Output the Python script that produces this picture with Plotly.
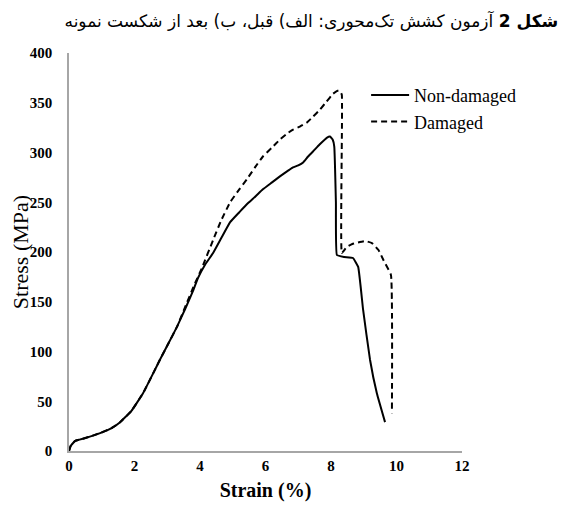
import plotly.graph_objects as go

# Non-damaged specimen
strain_nd = [0.0, 0.05, 0.18, 0.5, 0.95, 1.3, 1.56, 1.9, 2.26, 2.6, 2.78, 3.05, 3.3, 3.55, 3.8, 3.94, 4.15, 4.4, 4.65, 4.92, 5.2,
             5.43, 5.7, 5.92, 6.2, 6.44, 6.7, 6.84, 7.0, 7.15, 7.3, 7.45, 7.65, 7.88, 7.97, 8.05, 8.1, 8.15, 8.18, 8.4, 8.67,
             8.83, 8.98, 9.19, 9.4, 9.65]
stress_nd = [0, 5, 10, 13, 18, 23, 29, 40, 58, 80, 92, 109, 125, 143, 162, 174, 187, 199, 214, 230, 240,
             248, 256, 263, 270, 276, 282, 285, 287, 290, 296, 301, 308, 315, 316, 313, 306, 250, 197, 195, 194,
             185, 142, 92, 58, 29]

# Damaged specimen
strain_d = [0.0, 0.05, 0.18, 0.5, 0.95, 1.3, 1.56, 1.9, 2.26, 2.6, 2.78, 3.05, 3.3, 3.55, 3.8, 4.06, 4.4, 4.65, 4.92, 5.2,
            5.43, 5.7, 5.92, 6.2, 6.44, 6.7, 6.84, 7.05, 7.26, 7.45, 7.66, 7.86, 8.06, 8.2, 8.27, 8.33, 8.33, 8.48, 8.65,
            8.88, 9.05, 9.25, 9.45, 9.6, 9.83, 9.86]
stress_d = [0, 5, 10, 13, 18, 23, 29, 40, 58, 80, 92, 109, 125, 145, 165, 184, 212, 232, 250, 263,
            273, 286, 296, 305, 313, 320, 323, 326, 330, 336, 343, 351, 359, 362, 362, 358, 199, 205, 208,
            210, 211, 209, 202, 192, 177, 38]

x_ticks = [0, 2, 4, 6, 8, 10, 12]
y_ticks = [0, 50, 100, 150, 200, 250, 300, 350, 400]

title_text = "<b>شکل 2</b> آزمون کشش تک‌محوری: الف) قبل، ب) بعد از شکست نمونه"

serif = "Liberation Serif, Times New Roman, serif"

fig = go.Figure()
fig.add_trace(go.Scatter(x=strain_nd, y=stress_nd, mode="lines", name="Non-damaged",
                         line=dict(color="black", width=2, shape="spline", smoothing=0.3)))
fig.add_trace(go.Scatter(x=strain_d, y=stress_d, mode="lines", name="Damaged",
                         line=dict(color="black", width=2, dash="6px,4px", shape="spline", smoothing=0.3)))

fig.update_layout(
    width=579, height=507,
    margin=dict(l=61, r=125, t=45, b=64),
    paper_bgcolor="white", plot_bgcolor="white",
    font=dict(family=serif, color="black"),
    title=dict(text=title_text, x=0.524, xanchor="center", y=0.975, yanchor="middle",
               font=dict(family="DejaVu Sans, Noto Sans, sans-serif", size=17, color="black")),
    showlegend=True,
    legend=dict(x=0.756, y=0.94, xanchor="left", yanchor="top", bgcolor="rgba(0,0,0,0)",
                font=dict(family=serif, size=18, color="black"), itemwidth=38),
    xaxis=dict(range=[0, 12], tickvals=x_ticks, ticktext=[f"<b>{v}</b>" for v in x_ticks],
               showgrid=False, zeroline=False, showline=True, linecolor="#a6a6a6", linewidth=1.5,
               ticks="", tickfont=dict(family=serif, size=15, color="black"), automargin=False,
               title=dict(text="<b>Strain (%)</b>", font=dict(family=serif, size=20, color="black"), standoff=10)),
    yaxis=dict(range=[0, 400], tickvals=y_ticks, ticktext=[f"<b>{v}</b>" for v in y_ticks],
               showgrid=False, zeroline=False, showline=True, linecolor="#a6a6a6", linewidth=1.5,
               ticks="", tickfont=dict(family=serif, size=15, color="black"), ticklabelstandoff=12,
               automargin=False,
               title=dict(text="Stress (MPa)", font=dict(family=serif, size=22, color="black"), standoff=4)),
)

fig.write_html("out.html")
